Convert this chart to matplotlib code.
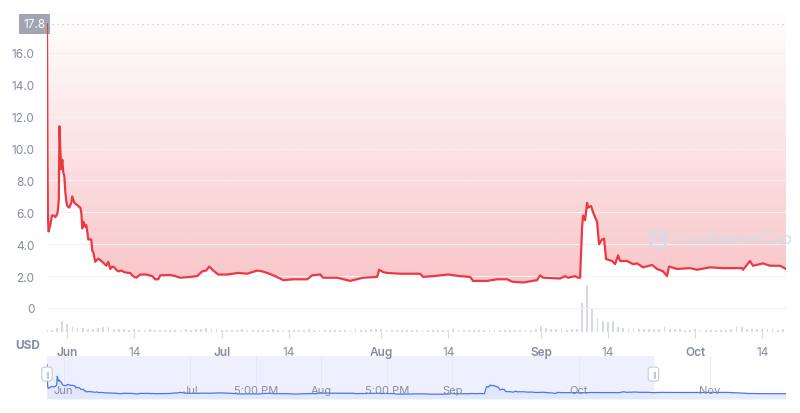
import numpy as np
import pandas as pd
import matplotlib
matplotlib.use("Agg")
import matplotlib.pyplot as plt
import matplotlib.dates as mdates
from matplotlib.patches import Polygon
from matplotlib.transforms import blended_transform_factory

plt.rcParams["font.family"] = ["Inter", "DejaVu Sans"]

BASE = pd.Timestamp("2023-06-01")

# price samples, days counted from Jun 1
price_days = [
	-3.94, -3.84, -3.77, -3.63, -3.30, -2.97, -2.62, -2.33, -1.94, -1.81,
	-1.65, -1.51, -1.36, -1.17, -0.97, -0.78, -0.58, -0.39, -0.19, 0.0,
	0.39, 0.78, 0.97, 1.36, 1.75, 2.14, 2.52, 2.72, 2.91, 3.11,
	3.30, 3.50, 3.69, 3.88, 4.08, 4.66, 4.85, 5.05, 5.44, 6.02,
	6.41, 6.80, 7.57, 7.96, 8.35, 8.74, 9.13, 9.51, 9.90, 10.49,
	11.07, 11.84, 12.23, 12.62, 13.01, 13.40, 14.17, 15.34, 16.50, 17.09,
	17.67, 18.06, 20.0, 20.97, 21.94, 23.88, 25.24, 26.21, 26.99, 27.57,
	28.35, 29.32, 31.07, 33.20, 34.95, 36.89, 37.86, 38.83, 40.39, 41.94,
	43.88, 46.60, 47.57, 49.13, 49.71, 52.43, 54.95, 57.48, 60.19, 60.58,
	61.36, 62.14, 64.66, 66.60, 68.54, 69.13, 71.07, 73.98, 76.31, 78.25,
	78.83, 81.55, 83.50, 85.44, 86.41, 88.54, 91.26, 91.84, 92.43, 95.73,
	96.70, 97.28, 98.64, 99.22, 99.61, 100.0, 100.19, 100.58, 100.97, 101.17,
	101.75, 102.14, 102.91, 103.30, 103.88, 104.27, 104.66, 105.83, 106.41, 106.99,
	107.38, 108.74, 109.90, 110.68, 111.84, 113.59, 114.56, 115.73, 116.50, 116.89,
	118.45, 120.97, 122.33, 124.85, 127.38, 131.07, 131.26, 132.62, 133.20, 135.15,
	136.50, 138.45, 139.61,
]
price_usd = [
	17.8, 9.0, 5.8, 4.8, 5.2, 5.8, 5.8, 5.7, 5.9, 6.2,
	6.8, 11.4, 10.0, 8.7, 9.3, 8.5, 8.3, 7.3, 6.7, 6.4,
	6.3, 6.6, 7.0, 6.6, 6.5, 6.4, 6.3, 6.0, 5.0, 5.4,
	5.3, 5.1, 5.2, 4.8, 4.3, 4.3, 3.6, 3.5, 2.9, 3.1,
	3.0, 2.9, 2.65, 2.9, 2.45, 2.6, 2.55, 2.4, 2.3, 2.35,
	2.25, 2.2, 2.2, 2.05, 1.95, 1.9, 2.1, 2.1, 2.0, 1.8,
	1.8, 2.05, 2.07, 2.0, 1.9, 1.95, 2.0, 2.3, 2.35, 2.6,
	2.35, 2.1, 2.1, 2.2, 2.15, 2.35, 2.3, 2.2, 2.0, 1.75,
	1.8, 1.8, 2.05, 2.1, 1.9, 1.9, 1.7, 1.9, 1.95, 2.4,
	2.25, 2.2, 2.15, 2.15, 2.15, 1.95, 2.0, 2.1, 2.0, 1.95,
	1.7, 1.7, 1.8, 1.8, 1.65, 1.6, 1.75, 2.05, 1.9, 1.85,
	2.0, 1.9, 2.0, 1.9, 1.9, 5.05, 5.8, 5.5, 6.6, 6.3,
	6.4, 6.0, 5.4, 4.0, 4.3, 4.35, 3.07, 2.95, 2.75, 3.3,
	2.95, 2.95, 2.75, 2.8, 2.55, 2.7, 2.45, 2.3, 2.0, 2.6,
	2.45, 2.5, 2.4, 2.55, 2.5, 2.5, 2.4, 2.95, 2.65, 2.8,
	2.65, 2.65, 2.45,
]

# later prices only shown in the navigator strip
nav_extra_days = [141.0, 147.0, 153.0, 157.0, 160.0, 162.0, 166.0, 171.0]
nav_extra_usd = [2.6, 2.55, 2.6, 2.6, 2.3, 2.0, 1.9, 1.9]

# daily volume (relative units), day -4 .. 139
volume_start = -4
volume = [
	2, 2, 4, 11, 8, 5, 4, 4, 3, 3, 4, 5, 5, 3, 3, 3,
	2, 3, 2, 2, 3, 2, 2, 2, 2,
	2, 2, 3, 2, 3, 3, 4, 3, 3, 2,
	2, 2, 2, 3, 2, 2, 2, 2, 2, 3, 2, 2, 2, 2, 2, 2, 3, 2, 2, 2,
	2, 2, 2, 2, 2, 3, 2, 2, 3, 3,
	3, 2, 2, 2, 2, 2, 2, 2, 2, 2, 2, 2, 2, 2, 3, 2, 2, 2, 2, 2,
	2, 2, 2, 2, 2, 2, 2, 2, 2, 2,
	3, 6, 4, 3, 3, 3, 2, 3, 3,
	30, 48, 25, 14, 11, 10, 11, 5, 4,
	3, 3, 3, 3, 3, 3, 3, 5, 3, 3, 3, 2, 2, 3, 2, 2, 2, 2, 2, 2,
	3, 6, 5, 3, 3, 3, 3, 3, 3, 2, 3,
]

y_ticks = [0, 2, 4, 6, 8, 10, 12, 14, 16]
x_tick_dates = ["2023-06-01", "2023-06-14", "2023-07-01", "2023-07-14", "2023-08-01",
	"2023-08-14", "2023-09-01", "2023-09-14", "2023-10-01", "2023-10-14"]
x_tick_labels = ["Jun", "14", "Jul", "14", "Aug", "14", "Sep", "14", "Oct", "14"]
nav_label_days = [0, 30, 45.5, 61, 76.5, 92, 122, 153]
nav_labels = ["Jun", "Jul", "5:00 PM", "Aug", "5:00 PM", "Sep", "Oct", "Nov"]
last_price = 17.8

RED = "#ea3943"
GREY = "#858ca2"
WATERMARK = "#d5dce7"


def to_dates(days):
	return mdates.date2num(BASE + pd.to_timedelta(np.asarray(days), unit="D"))


fig = plt.figure(figsize=(8, 4.14), dpi=100)
ax = fig.add_axes([0.05875, 0.19565, 0.92375, 0.7802])

px = to_dates(price_days)
py = np.array(price_usd)
y_lo, y_hi = -1.506, 18.76

# gradient above the line
grad = np.zeros((256, 2, 4))
rgb = matplotlib.colors.to_rgb(RED)
grad[:, :, 0], grad[:, :, 1], grad[:, :, 2] = rgb
alpha = np.linspace(0.0, 0.34, 256)[:, None]
grad[:, :, 3] = alpha
im = ax.imshow(grad, extent=[px[0], px[-1], y_lo, y_hi], origin="upper",
	aspect="auto", zorder=1, interpolation="bilinear")
poly_pts = [(px[0], y_hi)] + list(zip(px, py)) + [(px[-1], y_hi)]
clip = Polygon(poly_pts, closed=True, transform=ax.transData, facecolor="none", edgecolor="none")
ax.add_patch(clip)
im.set_clip_path(clip)

ax.plot(px, py, color=RED, lw=1.6, zorder=4, solid_joinstyle="round")

# volume bars on their own scale
axv = ax.twinx()
vd = to_dates(np.arange(volume_start, volume_start + len(volume)))
axv.bar(vd, volume, width=0.35, color="#d3d9e6", zorder=2)
axv.set_ylim(0, 330)
axv.axis("off")
ax.set_zorder(axv.get_zorder() + 1)
ax.patch.set_visible(False)

ax.set_xlim(px[0], px[-1])
ax.set_ylim(y_lo, y_hi)
for s in ax.spines.values():
	s.set_visible(False)
ax.set_yticks(y_ticks)
ax.set_yticklabels(["0"] + [f"{v:.1f}" for v in y_ticks[1:]])
ax.grid(axis="y", color="#f0f2f6", lw=0.8)
ax.tick_params(axis="y", length=0, pad=9, labelsize=8.5, labelcolor=GREY)
ax.set_xticks(mdates.date2num(pd.to_datetime(x_tick_dates)))
ax.set_xticklabels(x_tick_labels)
for lab, txt in zip(ax.get_xticklabels(), x_tick_labels):
	lab.set_fontweight("semibold" if not txt.isdigit() else "normal")
ax.tick_params(axis="x", length=4, color="#d5dae3", pad=6, labelsize=8.5, labelcolor=GREY)

# last price marker
ax.axhline(last_price, color="#c9cdd5", lw=0.9, ls=(0, (1, 3)), zorder=3)
trans = blended_transform_factory(ax.transAxes, ax.transData)
ax.text(-0.002, last_price, f"{last_price:.1f}", transform=trans, ha="right", va="center",
	fontsize=8.5, color="white",
	bbox=dict(boxstyle="square,pad=0.35", fc="#a0a6b2", ec="none"))

fig.text(28 / 800, 1 - 346 / 414, "USD", ha="center", va="center", fontsize=8.5,
	fontweight="bold", color=GREY)

# watermark
ax.text(0.827, 0.288, "M", transform=ax.transAxes, fontsize=9, color=WATERMARK,
	ha="center", va="center", fontweight="bold", zorder=3,
	bbox=dict(boxstyle="circle,pad=0.25", fc="none", ec=WATERMARK, lw=1.8))
ax.text(0.848, 0.288, "CoinMarketCap", transform=ax.transAxes, fontsize=11.5,
	color=WATERMARK, ha="left", va="center", zorder=3)

# navigator strip
axn = fig.add_axes([0.05875, 0.0338, 0.92375, 0.104])
nx = np.concatenate([px, to_dates(nav_extra_days)])
ny = np.concatenate([py, nav_extra_usd])
axn.set_xlim(nx[0], nx[-1])
axn.set_ylim(-1.0, 22.5)
axn.axvspan(px[0], px[-1], color="#eef1fd", zorder=0)
axn.fill_between(nx, ny, -1.0, color="#dde5fc", alpha=0.7, zorder=1, lw=0)
axn.plot(nx, ny, color="#4b73f5", lw=0.9, zorder=3)
for d, lab in zip(to_dates(nav_label_days), nav_labels):
	axn.axvline(d, color="#e3e7ef", lw=0.6, zorder=0.5)
	axn.text(d, 0.21, lab, transform=blended_transform_factory(axn.transData, axn.transAxes),
		ha="center", va="center", fontsize=8, color=GREY, zorder=4)
for d in (px[0], px[-1]):
	axn.text(d, 0.58, "\u2016", transform=blended_transform_factory(axn.transData, axn.transAxes),
		ha="center", va="center", fontsize=5, color="#9aa1ad", family="DejaVu Sans", zorder=5,
		bbox=dict(boxstyle="round,pad=0.5,rounding_size=0.4", fc="white", ec="#c5cad3", lw=0.8))
axn.axis("off")

fig.savefig("out.png", dpi=100)
